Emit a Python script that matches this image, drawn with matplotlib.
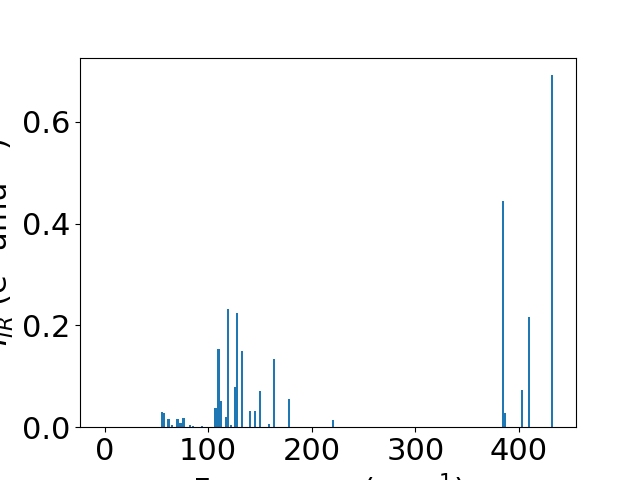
import matplotlib
matplotlib.use('Agg')
import matplotlib.pyplot as plt

# vibrational frequencies (cm^-1) and IR intensities
freqs = [-1, 55.5, 57.5, 61.7, 65.5, 70.4, 73.3, 76.2, 82.0, 84.9, 93.6,
         107.1, 110.0, 112.6, 117.1, 119.0, 122.0, 125.8, 127.7, 132.6,
         140.3, 145.2, 150.0, 158.7, 163.5, 177.7, 220.6,
         385.0, 386.3, 403.4, 410.2, 432.4]
intensities = [0.0, 0.0295, 0.0275, 0.0157, 0.004, 0.0157, 0.0079, 0.0177, 0.004, 0.002, 0.002,
               0.0374, 0.153, 0.051, 0.0197, 0.232, 0.004, 0.0787, 0.224, 0.149,
               0.0315, 0.0315, 0.0708, 0.006, 0.134, 0.055, 0.0138,
               0.444, 0.0275, 0.0728, 0.216, 0.692]

plt.rcParams['font.size'] = 22

fig, ax = plt.subplots(figsize=(6.4, 4.8), dpi=100)
ax.bar(freqs, intensities, width=2)
ax.set_xlabel('Frequency (cm$^{-1}$)')
ax.set_ylabel('$I_{IR}$ (e$^2$ amu$^{-1}$)')
fig.savefig('out.png')
